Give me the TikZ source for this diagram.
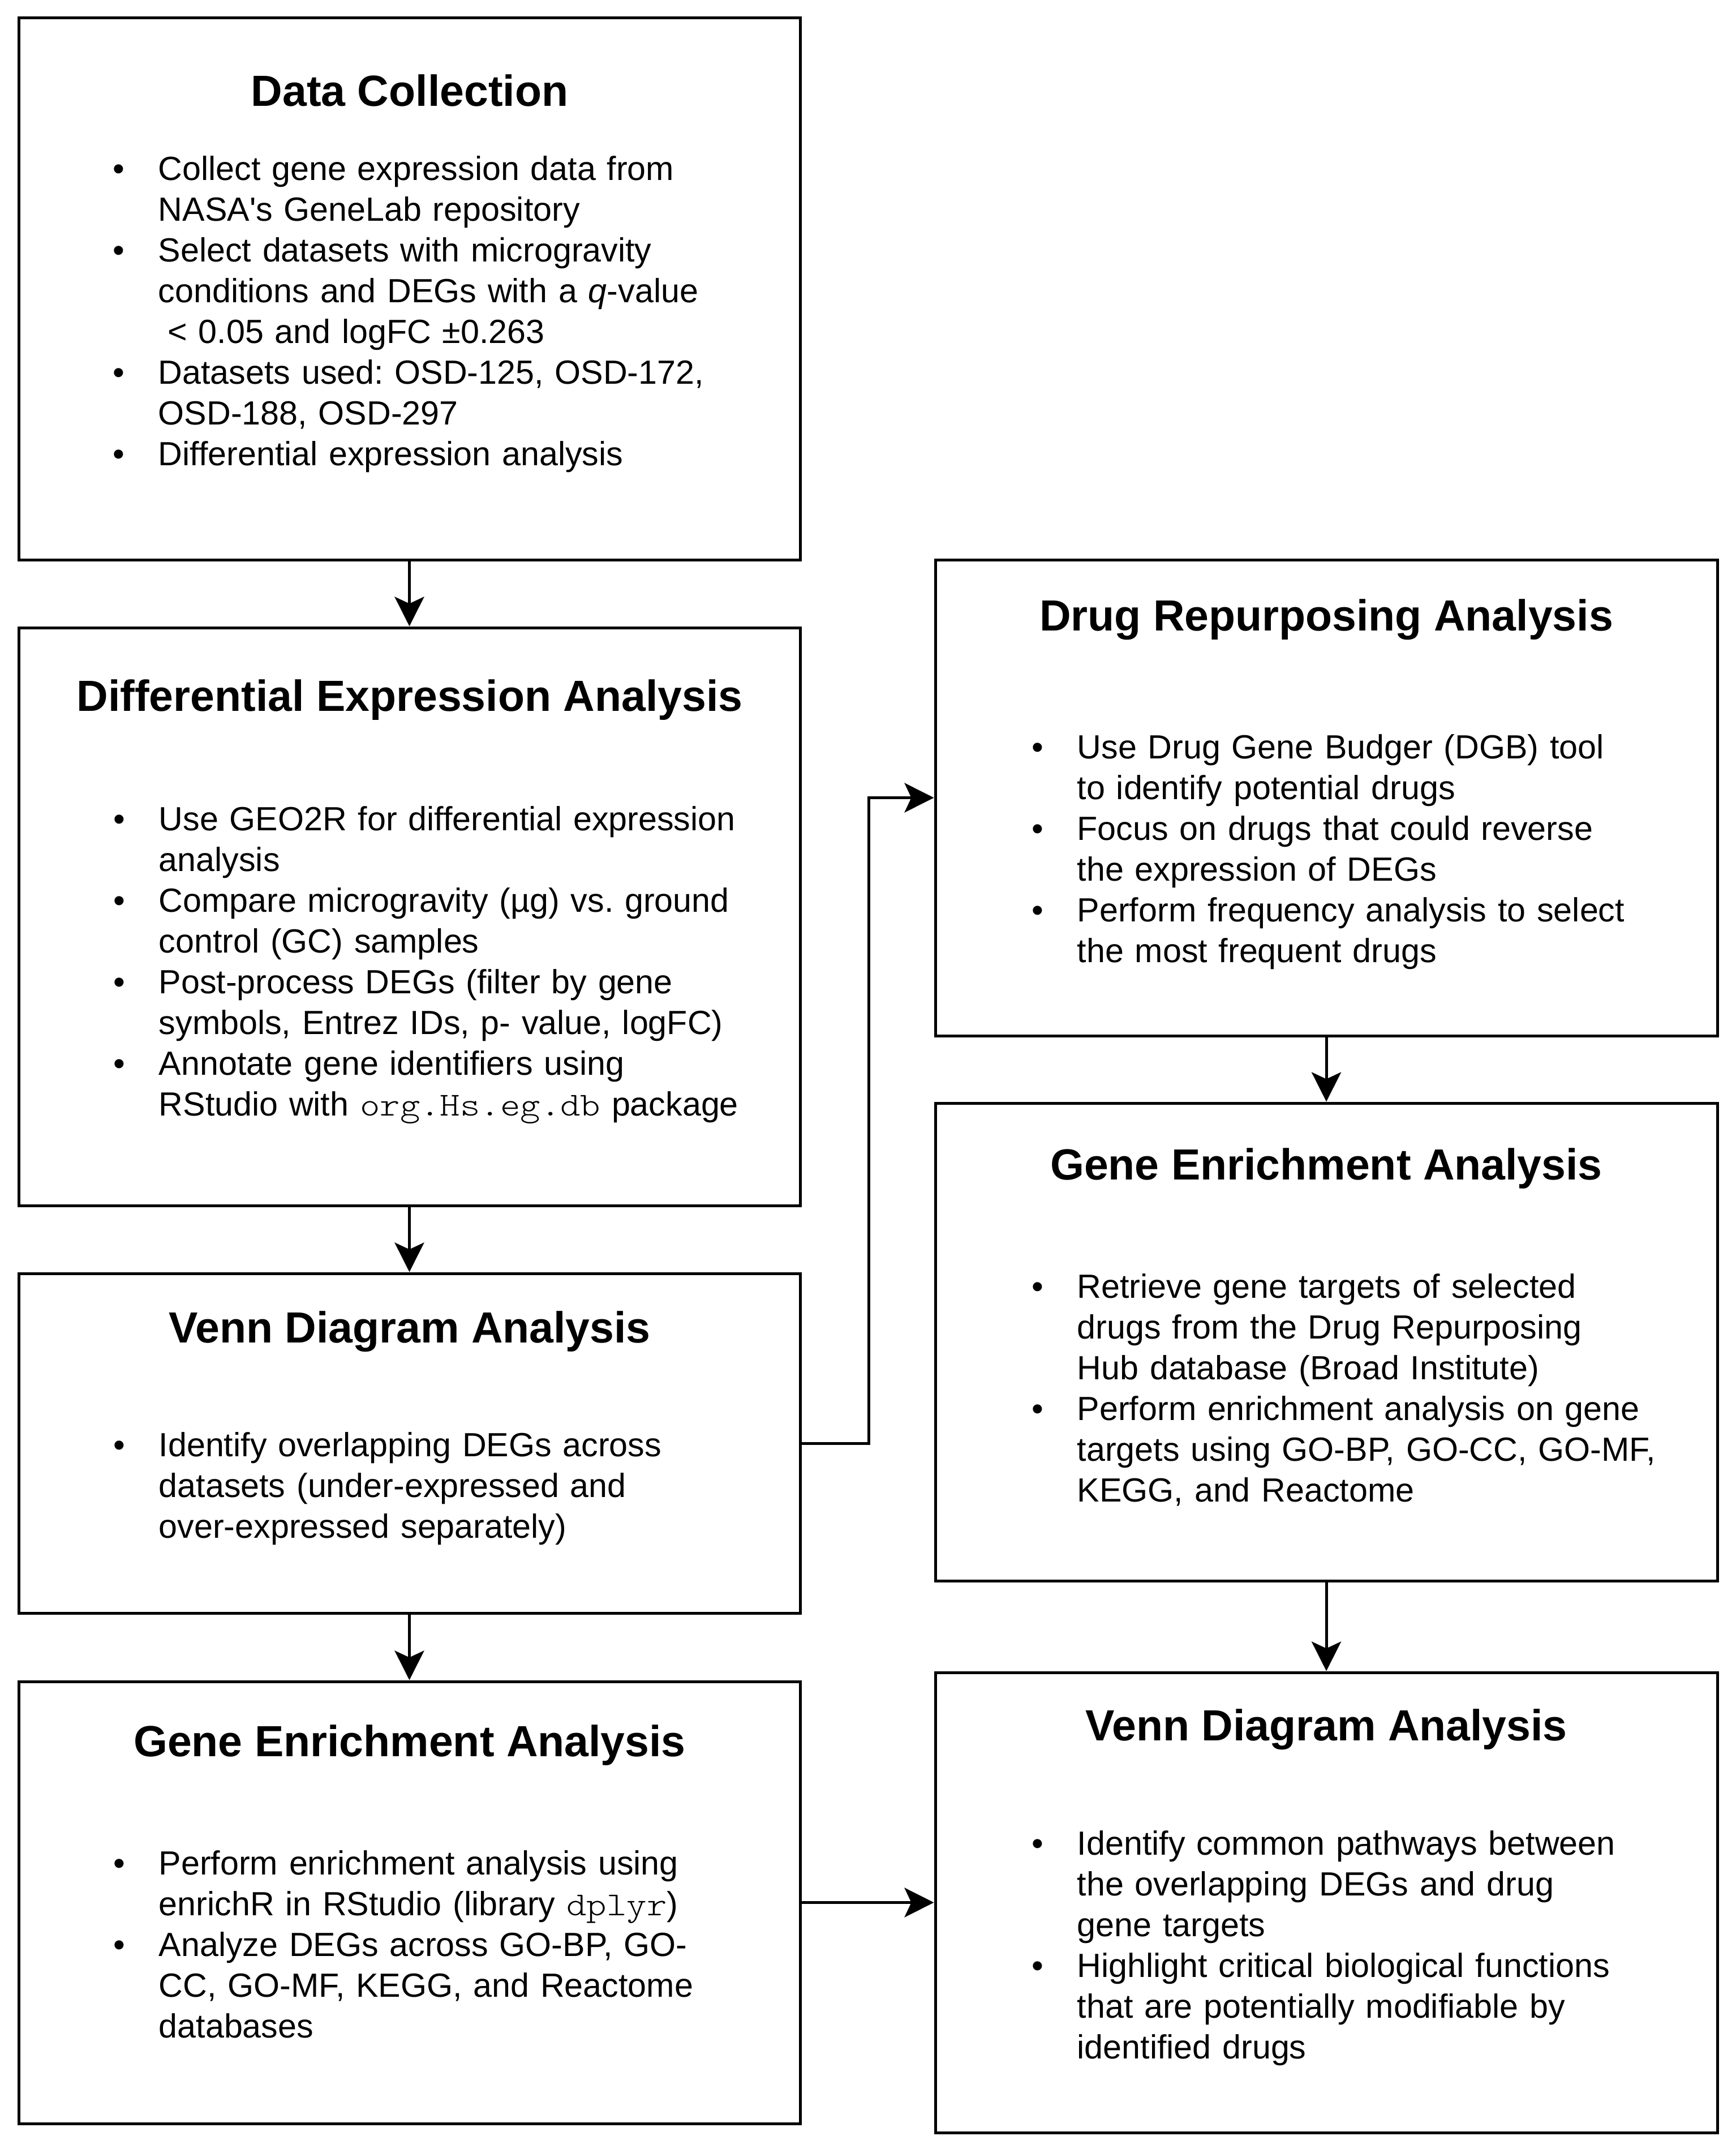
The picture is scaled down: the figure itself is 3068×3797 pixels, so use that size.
\documentclass[tikz,border=0pt]{standalone}
\usepackage{fontspec}
\usepackage{graphicx}
\setmainfont{Liberation Sans}
\usetikzlibrary{arrows.meta,fit}
\frenchspacing
\newcommand{\itm}{\makebox[20pt][l]{\textbullet}}
\newcommand{\cnt}{\makebox[20pt][l]{}}
\newcommand{\cod}[1]{\scalebox{1.14}[1]{\ttfamily\fontseries{l}\selectfont #1}}
\begin{document}
\begin{tikzpicture}[x=0.25pt,y=-0.25pt,
  box/.style={draw, line width=1.25pt, inner sep=0pt},
  ttl/.style={font=\fontsize{19.25pt}{23pt}\selectfont\bfseries, anchor=base, inner sep=0pt},
  bdy/.style={font=\fontsize{14.8pt}{18pt}\selectfont, anchor=base west, inner sep=0pt, text width=330pt, align=left},
  arr/.style={line width=1.25pt, -{Stealth[length=13pt,width=13pt,inset=3pt]}}]
\fill[white] (0,0) rectangle (3068,3797);
\useasboundingbox (0,0) rectangle (3068,3797);

% left column
\node[box, fit={(33,32)(1414,989)}] (L1) {};
\node[ttl] (L1t) at (724,188) {Data Collection};
\node[bdy] (L1b) at (199,319) {\itm Collect gene expression data from\\
\cnt NASA\textquotesingle s GeneLab repository\\
\itm Select datasets with microgravity\\
\cnt conditions and DEGs with a \textit{q}-value\\
\cnt\hspace{4.2pt}< 0.05 and logFC ±0.263\\
\itm Datasets used: OSD-125, OSD-172,\\
\cnt OSD-188, OSD-297\\
\itm Differential expression analysis};

\node[box, fit={(33,1109)(1414,2130)}] (L2) {};
\node[ttl] (L2t) at (724,1256) {Differential Expression Analysis};
\node[bdy] (L2b) at (200,1467) {\itm Use GEO2R for differential expression\\
\cnt analysis\\
\itm Compare microgravity (µg) vs. ground\\
\cnt control (GC) samples\\
\itm Post-process DEGs (filter by gene\\
\cnt symbols, Entrez IDs, p- value, logFC)\\
\itm Annotate gene identifiers using\\
\cnt RStudio with \cod{org.Hs.eg.db} package};

\node[box, fit={(33,2250)(1414,2850)}] (L3) {};
\node[ttl] (L3t) at (724,2372) {Venn Diagram Analysis};
\node[bdy] (L3b) at (200,2573) {\itm Identify overlapping DEGs across\\
\cnt datasets (under-expressed and\\
\cnt over-expressed separately)};

\node[box, fit={(33,2971)(1414,3752)}] (L4) {};
\node[ttl] (L4t) at (724,3103) {Gene Enrichment Analysis};
\node[bdy] (L4b) at (200,3312) {\itm Perform enrichment analysis using\\
\cnt enrichR in RStudio (library \cod{dplyr})\\
\itm Analyze DEGs across GO-BP, GO-\\
\cnt CC, GO-MF, KEGG, and Reactome\\
\cnt databases};

% right column
\node[box, fit={(1653,989)(3035,1830)}] (R1) {};
\node[ttl] (R1t) at (2344,1114) {Drug Repurposing Analysis};
\node[bdy] (R1b) at (1823,1340) {\itm Use Drug Gene Budger (DGB) tool\\
\cnt to identify potential drugs\\
\itm Focus on drugs that could reverse\\
\cnt the expression of DEGs\\
\itm Perform frequency analysis to select\\
\cnt the most frequent drugs};

\node[box, fit={(1653,1949)(3035,2793)}] (R2) {};
\node[ttl] (R2t) at (2344,2084) {Gene Enrichment Analysis};
\node[bdy] (R2b) at (1823,2293) {\itm Retrieve gene targets of selected\\
\cnt drugs from the Drug Repurposing\\
\cnt Hub database (Broad Institute)\\
\itm Perform enrichment analysis on gene\\
\cnt targets using GO-BP, GO-CC, GO-MF,\\
\cnt KEGG, and Reactome};

\node[box, fit={(1653,2955)(3035,3768)}] (R3) {};
\node[ttl] (R3t) at (2344,3075) {Venn Diagram Analysis};
\node[bdy] (R3b) at (1823,3277) {\itm Identify common pathways between\\
\cnt the overlapping DEGs and drug\\
\cnt gene targets\\
\itm Highlight critical biological functions\\
\cnt that are potentially modifiable by\\
\cnt identified drugs};

% connectors
\coordinate (bend) at (1535,0);
\draw[arr] (L1) -- (L2);
\draw[arr] (L2) -- (L3);
\draw[arr] (L3) -- (L4);
\draw[arr] (R1) -- (R2);
\draw[arr] (R2) -- (R3);
\draw[arr] (L3.east) -- (L3.east -| bend) |- (R1.west);
\draw[arr] (L4.east) -- (R3.west);
\end{tikzpicture}
\end{document}
